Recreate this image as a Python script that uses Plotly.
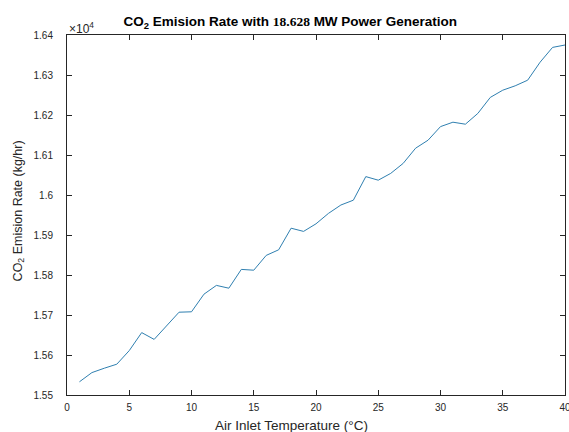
import plotly.graph_objects as go

temperature = list(range(1, 41))
co2_rate = [15533, 15556, 15567, 15577, 15611, 15656, 15639, 15672, 15707, 15708,
            15752, 15774, 15767, 15814, 15812, 15849, 15863, 15917, 15909, 15928,
            15954, 15975, 15987, 16046, 16037, 16054, 16079, 16117, 16137, 16171,
            16182, 16177, 16204, 16244, 16262, 16273, 16287, 16332, 16369, 16375]
y_tick_vals = [15500, 15600, 15700, 15800, 15900, 16000, 16100, 16200, 16300, 16400]
y_tick_text = ["1.55", "1.56", "1.57", "1.58", "1.59", "1.6", "1.61", "1.62", "1.63", "1.64"]
x_tick_vals = [0, 5, 10, 15, 20, 25, 30, 35, 40]

axis_color = "#262626"
font_family = "Liberation Sans, Arial, sans-serif"

fig = go.Figure()
fig.add_trace(go.Scatter(x=temperature, y=co2_rate, mode="lines",
                         line=dict(color="#2f7fb0", width=1)))

fig.update_layout(
    width=569, height=432,
    paper_bgcolor="white", plot_bgcolor="white",
    margin=dict(l=67, r=4, t=35, b=37),
    showlegend=False,
    font=dict(family=font_family, size=10, color=axis_color),
    title=dict(
        text="<b>CO<sub>2</sub> Emision Rate with </b><span style='font-family:Liberation Serif, serif'><b>18.628</b></span><b> MW Power Generation</b>",
        x=0.51, xanchor="center", y=0.951, yanchor="middle",
        font=dict(size=13.5, color="black", family=font_family),
    ),
    xaxis=dict(
        range=[0, 40], tickvals=x_tick_vals, showgrid=False, zeroline=False,
        showline=True, linecolor=axis_color, linewidth=1, mirror="ticks",
        ticks="inside", ticklen=5, tickcolor=axis_color, ticklabelstandoff=3,
        ticklabeloverflow="allow", automargin=False,
    ),
    yaxis=dict(
        range=[15500, 16400], tickvals=y_tick_vals, ticktext=y_tick_text,
        showgrid=False, zeroline=False,
        showline=True, linecolor=axis_color, linewidth=1, mirror="ticks",
        ticks="inside", ticklen=5, tickcolor=axis_color, ticklabelstandoff=11,
        automargin=False,
    ),
)

# axis titles (offset like the reference)
fig.add_annotation(text="Air Inlet Temperature (°C)", xref="paper", yref="paper",
                   x=0.45, y=0, xanchor="center", yanchor="middle", yshift=-30,
                   showarrow=False, font=dict(size=13.5, color=axis_color))
fig.add_annotation(text="CO<sub>2</sub> Emision Rate (kg/hr)", xref="paper", yref="paper",
                   x=0, y=0.51, xanchor="center", yanchor="middle", xshift=-48,
                   textangle=-90, showarrow=False, font=dict(size=12.5, color=axis_color))
fig.add_annotation(text="×10<sup>4</sup>", xref="paper", yref="paper", x=0.0, y=1.0,
                   xanchor="left", yanchor="bottom", showarrow=False, xshift=0,
                   font=dict(size=12, color=axis_color), yshift=-3)

fig.write_html("out.html", config={"displayModeBar": False},
               post_script="document.body.style.margin='0';")
